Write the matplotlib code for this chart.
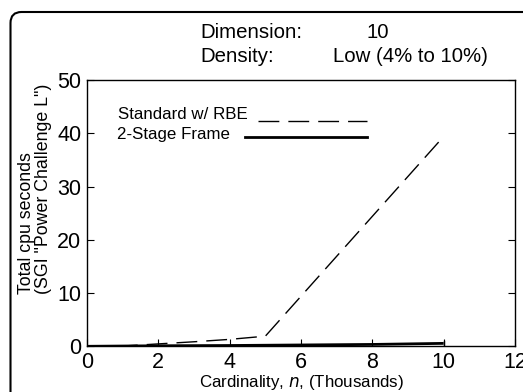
import matplotlib
matplotlib.use("Agg")
import matplotlib.pyplot as plt
from matplotlib.patches import FancyBboxPatch

# data (cardinality in thousands, cpu seconds)
n_std = [0, 1, 2, 3, 4, 5, 10]
t_std = [0, 0.05, 0.45, 0.85, 1.3, 1.9, 39.4]
n_two = [0, 2, 4, 6, 8, 10]
t_two = [0, 0.1, 0.15, 0.25, 0.35, 0.55]
xticks = [0, 2, 4, 6, 8, 10, 12]
yticks = [0, 10, 20, 30, 40, 50]

plt.rcParams["font.family"] = ["Liberation Sans", "DejaVu Sans"]

W, H = 523, 392
L, R, T, B = 87, 515, 80, 346.3   # axes box in pixels
fig = plt.figure(figsize=(W/100, H/100), dpi=100)
ax = fig.add_axes([L/W, 1-B/H, (R-L)/W, (B-T)/H])

def axfrac(px, py):
    return (px-L)/(R-L), 1-(py-T)/(B-T)

# rounded frame round the whole chart (cut off at right / bottom)
frame = FancyBboxPatch((0.105, -0.5), 6.0, H/100-0.12+0.5,
                       boxstyle="round,pad=0,rounding_size=0.11",
                       transform=fig.dpi_scale_trans, fill=False,
                       lw=1.5, ec="black", clip_on=False)
fig.patches.append(frame)

DASH = (15, 6.5)
ax.plot(n_std, t_std, color="black", lw=1.0, dashes=DASH)
ax.plot(n_two, t_two, color="black", lw=2.0, solid_capstyle="butt")
ax.plot([n_two[-1], n_two[-1]], [t_two[-1]-0.5, t_two[-1]+0.4], color="black", lw=1.0)

ax.set_xlim(0, 12)
ax.set_ylim(0, 50)
ax.set_xticks(xticks)
ax.set_yticks(yticks)
ax.tick_params(direction="in", length=5, width=0.8, labelsize=15.5,
               right=True, top=False, pad=4)
for s in ax.spines.values():
    s.set_linewidth(1.0)

ax.set_xlabel("Cardinality, $\\it{n}$, (Thousands)", fontsize=12.2, labelpad=0)
fig.text(35/W, 1-294/H, "Total cpu seconds\n(SGI \"Power Challenge L\")",
         rotation=90, ha="center", va="bottom", multialignment="left",
         fontsize=12.8, linespacing=1.05)

# legend drawn by hand
x0, y0 = axfrac(118, 115)
ax.text(x0, y0, "Standard w/ RBE", transform=ax.transAxes,
        ha="left", va="center", fontsize=12.2)
(xa, ya), (xb, _) = axfrac(258, 121), axfrac(367, 121)
ax.plot([xa, xb], [ya, ya], transform=ax.transAxes, color="black", lw=1.0, dashes=DASH)
x0, y0 = axfrac(117, 134)
ax.text(x0, y0, "2-Stage Frame", transform=ax.transAxes,
        ha="left", va="center", fontsize=12.2)
(xa, ya), (xb, _) = axfrac(245, 137), axfrac(367, 137)
ax.plot([xa, xb], [ya, ya], transform=ax.transAxes, color="black", lw=2.0)

fig.text(200/W, 1-33/H, "Dimension:", ha="left", va="center", fontsize=14.7)
fig.text(367/W, 1-33/H, "10", ha="left", va="center", fontsize=14.7)
fig.text(200/W, 1-57/H, "Density:", ha="left", va="center", fontsize=14.7)
fig.text(333/W, 1-57/H, "Low (4% to 10%)", ha="left", va="center", fontsize=14.7)

fig.savefig("out.png", dpi=100)
